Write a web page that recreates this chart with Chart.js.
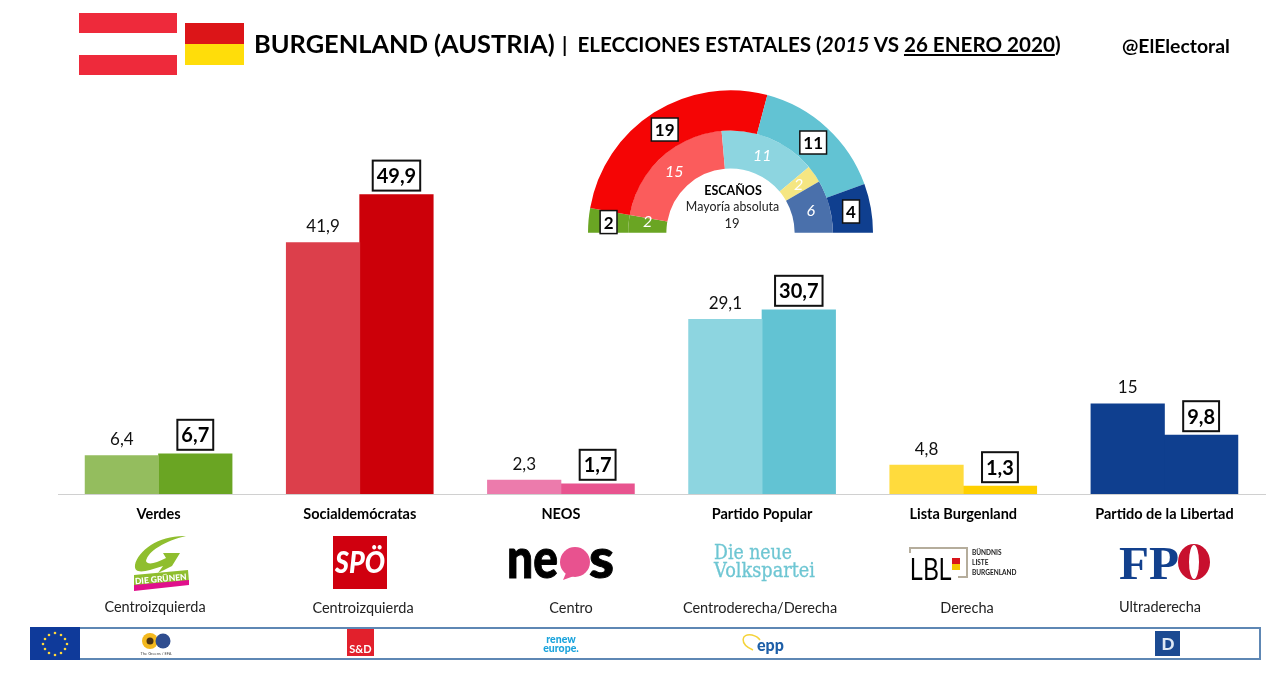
<!DOCTYPE html>
<html lang="es">
<head>
<meta charset="utf-8">
<title>Burgenland 2020</title>
<script src="https://cdn.jsdelivr.net/npm/chart.js@4/dist/chart.umd.min.js"></script>
<style>
	html, body { margin: 0; padding: 0; background: #fff; }
	body { width: 1280px; height: 688px; position: relative; overflow: hidden; font-family: Lato, sans-serif; color: #000; }
	canvas { position: absolute; }
	#barChart { left: 0; top: 0; }
	#seatChart { left: 588px; top: 90px; }
	.t { position: absolute; white-space: nowrap; }
	.c { transform: translateX(-50%); }
	svg { position: absolute; left: 0; top: 0; }
</style>
</head>
<body>
<canvas id="barChart" width="1280" height="688"></canvas>
<canvas id="seatChart" width="285" height="149"></canvas>

<svg width="1280" height="688" viewBox="0 0 1280 688">
	<!-- banderas -->
	<rect x="79" y="13" width="98" height="20" fill="#ee2a3b"/>
	<rect x="79" y="55" width="98" height="20" fill="#ee2a3b"/>
	<rect x="185" y="23" width="59" height="21" fill="#dc1518"/>
	<rect x="185" y="44" width="59" height="21" fill="#ffdd0a"/>

	<!-- Verdes -->
	<path d="M186 536 C160 535 138 550 135 565 C134 573 142 572 150 570 L163 566 L158 573 L172 566 L180 553 L163 553 L166 558 C155 564 147 565 146 561 C148 551 165 541 186 536 Z" fill="#8fbe2e"/>
	<path d="M134 575 L188 570 L189 582 L134 588 Z" fill="#8fbe2e"/>
	<path d="M134 585 L189 580 L189 585 L134 591 Z" fill="#e0108c"/>
	<text x="161" y="582" font-size="8.5" font-weight="900" fill="#fff" text-anchor="middle" transform="rotate(-5 161 582)">DIE GRÜNEN</text>

	<!-- SPÖ -->
	<rect x="333" y="536" width="54" height="53" fill="#d0000f"/>
	<text x="335" y="573" font-size="30" font-weight="900" font-style="italic" fill="#fff" textLength="50" lengthAdjust="spacingAndGlyphs">SPÖ</text>

	<!-- NEOS -->
	<text x="507" y="578" font-size="56" font-weight="900" fill="#000" stroke="#000" stroke-width="1" textLength="51" lengthAdjust="spacingAndGlyphs">ne</text>
	<circle cx="575" cy="562" r="15" fill="#e8528f"/>
	<path d="M566 573 L563 580 L574 576 Z" fill="#e8528f"/>
	<text x="589" y="578" font-size="56" font-weight="900" fill="#000" stroke="#000" stroke-width="1" textLength="25" lengthAdjust="spacingAndGlyphs">s</text>

	<!-- Volkspartei -->
	<text x="714" y="559" font-size="20" font-family="DejaVu Serif" fill="#6ec6d3" stroke="#6ec6d3" stroke-width="0.3" textLength="78" lengthAdjust="spacingAndGlyphs">Die neue</text>
	<text x="714" y="577" font-size="20" font-family="DejaVu Serif" fill="#6ec6d3" stroke="#6ec6d3" stroke-width="0.3" textLength="101" lengthAdjust="spacingAndGlyphs">Volkspartei</text>

	<!-- LBL -->
	<path d="M910 553 V548 H967 V577 H958" fill="none" stroke="#b5ad9c" stroke-width="2"/>
	<text x="910" y="580" font-size="32" font-family="Liberation Sans" fill="#000" textLength="42" lengthAdjust="spacingAndGlyphs">LBL</text>
	<rect x="952" y="558" width="8" height="6" fill="#d8141a"/>
	<rect x="952" y="564" width="8" height="6" fill="#f5c400"/>
	<text x="972" y="555" font-size="6.5" font-weight="700" fill="#222">BÜNDNIS</text>
	<text x="972" y="565" font-size="6.5" font-weight="700" fill="#222">LISTE</text>
	<text x="972" y="575" font-size="6.5" font-weight="700" fill="#222">BURGENLAND</text>

	<!-- FPÖ -->
	<text x="1119" y="579" font-size="46" font-weight="700" font-family="Liberation Serif" fill="#12408d" textLength="60" lengthAdjust="spacingAndGlyphs">FP</text>
	<ellipse cx="1194" cy="562" rx="16" ry="18" fill="#c8102e"/>
	<ellipse cx="1194" cy="562" rx="5" ry="17" fill="#fff"/>

	<!-- banda europea -->
	<rect x="31" y="628" width="1229" height="31" fill="none" stroke="#5e87b4" stroke-width="2"/>
	<rect x="30" y="627" width="50" height="33" fill="#0f3a9a"/>
	<g fill="#ffd83a">
		<circle cx="55" cy="633" r="1.3"/><circle cx="61" cy="635" r="1.3"/><circle cx="65" cy="639" r="1.3"/>
		<circle cx="67" cy="644" r="1.3"/><circle cx="65" cy="649" r="1.3"/><circle cx="61" cy="653" r="1.3"/>
		<circle cx="55" cy="655" r="1.3"/><circle cx="49" cy="653" r="1.3"/><circle cx="45" cy="649" r="1.3"/>
		<circle cx="43" cy="644" r="1.3"/><circle cx="45" cy="639" r="1.3"/><circle cx="49" cy="635" r="1.3"/>
	</g>
	<circle cx="150" cy="641" r="8" fill="#f3b81e"/>
	<circle cx="150" cy="641" r="3.5" fill="#4a3313"/>
	<circle cx="163" cy="641" r="7.5" fill="#2f4d8f"/>
	<text x="156" y="655" font-size="4" fill="#444" text-anchor="middle">The Greens / EFA</text>
	<rect x="347" y="629" width="27" height="27" fill="#e2202c"/>
	<text x="360.5" y="653" font-size="11" font-weight="700" fill="#fff" text-anchor="middle">S&amp;D</text>
	<text x="561" y="643" font-size="10.5" font-weight="900" fill="#1aa3dc" text-anchor="middle">renew</text>
	<text x="561" y="652" font-size="10.5" font-weight="900" fill="#1aa3dc" text-anchor="middle">europe.</text>
	<path d="M753 650 C739 644 741 633 752 635 C756 636 758 637 760 640" fill="none" stroke="#f5d33a" stroke-width="1.5"/>
	<text x="757" y="651" font-size="16" font-weight="900" fill="#1e5fa8">epp</text>
	<rect x="1155" y="631" width="25" height="25" fill="#1b4a92"/>
	<text x="1168" y="650" font-size="17" font-weight="900" fill="#dfe9f5" text-anchor="middle">D</text>
</svg>

<div class="t" style="left:254px;top:28px;font-size:25.4px;font-weight:700;">BURGENLAND (AUSTRIA)</div>
<div class="t" style="left:562px;top:32px;font-size:20.6px;font-weight:700;">|<span style="margin-left:10px;">ELECCIONES ESTATALES (<i>2015</i> VS <u>26 ENERO 2020</u>)</span></div>
<div class="t" style="left:1122px;top:34px;font-size:19.4px;font-weight:700;">@ElElectoral</div>

<div class="t c" style="left:733px;top:183px;font-size:12.5px;font-weight:700;">ESCAÑOS</div>
<div class="t c" style="left:732.5px;top:199px;font-size:12.4px;color:#222;">Mayoría absoluta</div>
<div class="t c" style="left:732px;top:215px;font-size:13px;color:#222;">19</div>

<div class="t c" style="left:155px;top:598px;font-size:14.5px;color:#222;">Centroizquierda</div>
<div class="t c" style="left:363px;top:599px;font-size:14.5px;color:#222;">Centroizquierda</div>
<div class="t c" style="left:571px;top:599px;font-size:14.5px;color:#222;">Centro</div>
<div class="t c" style="left:760px;top:599px;font-size:14.5px;color:#222;">Centroderecha/Derecha</div>
<div class="t c" style="left:967px;top:599px;font-size:14.5px;color:#222;">Derecha</div>
<div class="t c" style="left:1160px;top:598px;font-size:14.5px;color:#222;">Ultraderecha</div>

<script>
// Datos de las barras
const partidos = ['Verdes', 'Socialdemócratas', 'NEOS', 'Partido Popular', 'Lista Burgenland', 'Partido de la Libertad'];
const votos2015 = [6.4, 41.9, 2.3, 29.1, 4.8, 15];
const votos2020 = [6.7, 49.9, 1.7, 30.7, 1.3, 9.8];
const colores2015 = ['#94bd5e', '#dc3f4b', '#ec7bac', '#8dd5e0', '#ffdb3d', '#0f3f8f'];
const colores2020 = ['#6aa523', '#cc0009', '#e8548f', '#62c3d3', '#ffd000', '#0f3f8f'];

// Datos del hemiciclo
const escanos2020 = [2, 19, 11, 4];
const coloresEscanos2020 = ['#6aa523', '#f50505', '#62c3d3', '#0f3f8f'];
const escanos2015 = [2, 15, 11, 2, 6];
const coloresEscanos2015 = ['#6aa523', '#fb5c5c', '#8dd5e0', '#f5e682', '#4a70ab'];

function formato(v) {
	return String(v).replace('.', ',');
}

// Etiquetas encima de las barras
const etiquetasBarras = {
	id: 'etiquetasBarras',
	afterDatasetsDraw(chart) {
		const c = chart.ctx;
		c.save();
		c.textAlign = 'center';
		c.textBaseline = 'middle';
		chart.getDatasetMeta(0).data.forEach(function(bar, i) {
			c.font = '17px Lato';
			c.fillStyle = '#111';
			c.fillText(formato(votos2015[i]), bar.x, bar.y - 16);
		});
		chart.getDatasetMeta(1).data.forEach(function(bar, i) {
			c.font = 'bold 20px Lato';
			const txt = formato(votos2020[i]);
			const w = c.measureText(txt).width + 8;
			c.fillStyle = '#fff';
			c.strokeStyle = '#111';
			c.lineWidth = 2;
			c.fillRect(bar.x - w / 2, bar.y - 34, w, 30);
			c.strokeRect(bar.x - w / 2, bar.y - 34, w, 30);
			c.fillStyle = '#000';
			c.fillText(txt, bar.x, bar.y - 18);
		});
		c.restore();
	}
};

new Chart(document.getElementById('barChart'), {
	type: 'bar',
	data: {
		labels: partidos,
		datasets: [
			{ label: '2015', data: votos2015, backgroundColor: colores2015, categoryPercentage: 0.73, barPercentage: 1, inflateAmount: 0.4 },
			{ label: '2020', data: votos2020, backgroundColor: colores2020, categoryPercentage: 0.73, barPercentage: 1, inflateAmount: 0.4 }
		]
	},
	options: {
		responsive: false,
		animation: false,
		layout: { padding: { left: 58, right: 15, top: 14, bottom: 0 } },
		plugins: { legend: { display: false }, tooltip: { enabled: false } },
		scales: {
			x: {
				grid: { display: false, drawTicks: false },
				border: { color: '#d0d0d0', width: 1 },
				ticks: { color: '#000', font: { family: 'Lato', size: 14.5, weight: 'bold' }, padding: 12, maxRotation: 0, autoSkip: false },
				// el eje ocupa hasta el borde para dejar sitio a los logos
				afterFit(scale) { scale.height = 194; }
			},
			y: { display: false, min: 0, max: 80 }
		}
	},
	plugins: [etiquetasBarras]
});

// Etiquetas del hemiciclo
const etiquetasEscanos = {
	id: 'etiquetasEscanos',
	afterDatasetsDraw(chart) {
		const c = chart.ctx;
		c.save();
		c.textAlign = 'center';
		c.textBaseline = 'middle';
		chart.getDatasetMeta(1).data.forEach(function(arc, i) {
			const p = arc.tooltipPosition();
			c.font = 'italic 16px Lato';
			c.fillStyle = '#fff';
			c.fillText(escanos2015[i], p.x, p.y - (i === 0 ? 4 : 0));
		});
		chart.getDatasetMeta(0).data.forEach(function(arc, i) {
			const p = arc.tooltipPosition();
			c.font = 'bold 17px Lato';
			const txt = String(escanos2020[i]);
			const w = c.measureText(txt).width + 7;
			c.fillStyle = '#fff';
			c.strokeStyle = '#111';
			c.lineWidth = 1.5;
			c.fillRect(p.x - w / 2, p.y - 11.5, w, 23);
			c.strokeRect(p.x - w / 2, p.y - 11.5, w, 23);
			c.fillStyle = '#000';
			c.fillText(txt, p.x, p.y + 1);
		});
		c.restore();
	}
};

new Chart(document.getElementById('seatChart'), {
	type: 'doughnut',
	data: {
		datasets: [
			{ data: escanos2020, backgroundColor: coloresEscanos2020, borderWidth: 0, weight: 40 },
			{ data: escanos2015, backgroundColor: coloresEscanos2015, borderWidth: 0, weight: 38 }
		]
	},
	options: {
		responsive: false,
		animation: false,
		rotation: -90,
		circumference: 180,
		cutout: '45%',
		layout: { padding: { bottom: 6 } },
		plugins: { legend: { display: false }, tooltip: { enabled: false } }
	},
	plugins: [etiquetasEscanos]
});
</script>
</body>
</html>
